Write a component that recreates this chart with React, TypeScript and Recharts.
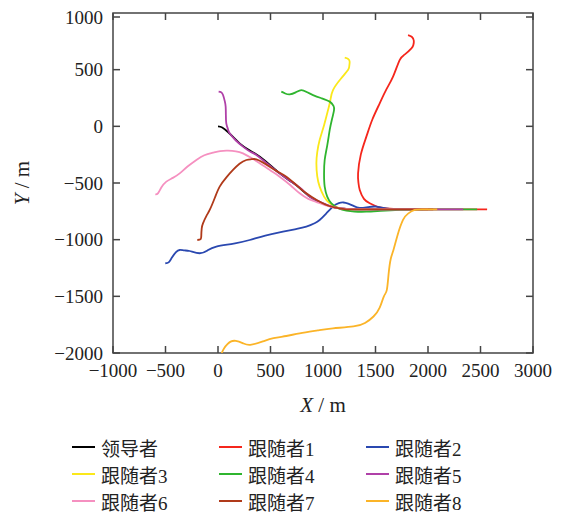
import { LineChart, Line, XAxis, YAxis, Legend, Label, ReferenceArea } from "recharts";

type Pt = [number, number];

const xTicks = [-1000, -500, 0, 500, 1000, 1500, 2000, 2500, 3000];
const yTicks = [-2000, -1500, -1000, -500, 0, 500, 1000];

const leader: Pt[] = [
  [0, 0], [40, -10], [95, -50], [150, -100], [206, -150], [280, -200], [349, -238],
  [450, -305], [587, -415], [700, -490], [778, -545], [860, -610], [937, -655],
  [1020, -690], [1095, -712], [1200, -727], [1300, -732], [1600, -732], [2000, -732],
];

const follower1: Pt[] = [
  [1810, 805], [1845, 790], [1865, 755], [1860, 715], [1842, 688], [1780, 635], [1730, 585],
  [1667, 438], [1600, 320], [1540, 203], [1470, 60], [1413, -91], [1360, -250], [1334, -415],
  [1338, -500], [1350, -562], [1390, -640], [1445, -679], [1520, -710], [1603, -723],
  [1750, -730], [2048, -732], [2563, -732],
];

const follower2: Pt[] = [
  [-502, -1208], [-470, -1200], [-440, -1160], [-400, -1110], [-365, -1091], [-320, -1095],
  [-270, -1100], [-175, -1120], [-100, -1095], [-16, -1061], [150, -1035], [302, -1003],
  [450, -965], [619, -929], [750, -905], [841, -885], [920, -855], [968, -826], [1030, -770],
  [1095, -708], [1150, -678], [1195, -672], [1240, -682], [1286, -700], [1349, -720],
  [1430, -712], [1508, -708], [1570, -720], [1635, -729], [1800, -732], [1950, -732],
];

const follower3: Pt[] = [
  [1207, 606], [1240, 595], [1254, 570], [1250, 530], [1238, 497], [1170, 420], [1095, 320],
  [1070, 230], [1048, 144], [1010, 10], [968, -121], [945, -230], [937, -326], [945, -440],
  [968, -532], [1010, -620], [1064, -679], [1159, -723], [1300, -733], [1600, -732], [2000, -732],
];

const follower4: Pt[] = [
  [603, 306], [640, 290], [683, 282], [740, 300], [794, 320], [850, 300], [905, 276],
  [980, 250], [1064, 218], [1100, 180], [1105, 144], [1085, 60], [1064, -32], [1040, -170],
  [1016, -297], [1010, -420], [1016, -532], [1040, -620], [1080, -679], [1150, -725],
  [1222, -744], [1300, -752], [1413, -753], [1550, -745], [1730, -736], [2000, -732], [2468, -732],
];

const follower5: Pt[] = [
  [6, 306], [30, 300], [48, 276], [65, 220], [73, 173], [75, 100], [79, 26], [95, -25],
  [111, -62], [170, -125], [238, -179], [300, -220], [365, -253], [470, -330], [587, -415],
  [700, -490], [778, -540], [860, -610], [937, -652], [1095, -710], [1200, -727], [1300, -732],
  [1600, -732], [2335, -732],
];

const follower6: Pt[] = [
  [-597, -600], [-572, -591], [-540, -540], [-492, -488], [-430, -455], [-365, -415],
  [-290, -355], [-206, -297], [-130, -255], [-48, -232], [20, -218], [95, -215], [170, -220],
  [238, -238], [320, -280], [397, -326], [500, -390], [587, -444], [690, -520], [778, -591],
  [860, -640], [937, -668], [1020, -695], [1095, -714], [1200, -727], [1400, -732], [2000, -732],
];

const follower7: Pt[] = [
  [-197, -1003], [-165, -995], [-159, -960], [-155, -900], [-143, -856], [-110, -790],
  [-79, -738], [-30, -630], [16, -532], [80, -450], [143, -385], [205, -330], [270, -297],
  [320, -290], [365, -291], [430, -320], [492, -356], [560, -395], [651, -444], [750, -520],
  [841, -591], [940, -650], [1032, -694], [1120, -718], [1222, -732], [1400, -733], [2050, -732],
];

const follower8: Pt[] = [
  [35, -2000], [60, -1955], [90, -1922], [120, -1900], [170, -1893], [240, -1915],
  [307, -1928], [420, -1900], [529, -1869], [650, -1850], [778, -1826], [950, -1800],
  [1095, -1782], [1290, -1766], [1400, -1735], [1481, -1678], [1540, -1600], [1580, -1500],
  [1608, -1443], [1625, -1300], [1645, -1170], [1671, -1091], [1710, -960], [1762, -826],
  [1810, -770], [1873, -738], [1950, -732], [2088, -732],
];

const seriesNames = ["领导者", "跟随者1", "跟随者2", "跟随者3", "跟随者4", "跟随者5", "跟随者6", "跟随者7", "跟随者8"];
const seriesColors = ["#000000", "#f5261c", "#2a48b0", "#fbe81a", "#2fb52f", "#b040a8", "#f590c0", "#b03a1a", "#fbb428"];
const seriesPoints = [leader, follower1, follower2, follower3, follower4, follower5, follower6, follower7, follower8];

const FONT = "'Liberation Serif', 'Noto Sans CJK SC', serif";
const AXIS = "#444";
const PLOT_W = 420;
const PLOT_H = 340;
const TICK = 7;
const fmt = (v: number) => String(v).replace("-", "\u2212");

// x tick: label below, inward marks at bottom and top of the frame
function XTick({ x, y, payload }: any) {
  return (
    <g>
      <line x1={x} y1={y} x2={x} y2={y - TICK} stroke={AXIS} strokeWidth={1.5} />
      <line x1={x} y1={y - PLOT_H} x2={x} y2={y - PLOT_H + TICK} stroke={AXIS} strokeWidth={1.5} />
      <text x={x} y={y + 17} dy="0.35em" textAnchor="middle" fontFamily={FONT} fontSize={19} fill="#222">
        {fmt(payload.value)}
      </text>
    </g>
  );
}

// y tick: label left, inward marks at left and right of the frame
function YTick({ x, y, payload }: any) {
  return (
    <g>
      <line x1={x} y1={y} x2={x + TICK} y2={y} stroke={AXIS} strokeWidth={1.5} />
      <line x1={x + PLOT_W} y1={y} x2={x + PLOT_W - TICK} y2={y} stroke={AXIS} strokeWidth={1.5} />
      <text x={x - 10} y={y} dy="0.35em" textAnchor="end" fontFamily={FONT} fontSize={19} fill="#222">
        {fmt(payload.value)}
      </text>
    </g>
  );
}

function LegendGrid(props: any) {
  const payload = [...(props.payload || [])]
    .filter((p: any) => seriesNames.includes(p.value))
    .sort((a: any, b: any) => seriesNames.indexOf(a.value) - seriesNames.indexOf(b.value));
  return (
    <div style={{ display: "grid", gridTemplateColumns: "147px 147px 147px", rowGap: 1 }}>
      {payload.map((p: any) => (
        <div key={p.value} style={{ display: "flex", alignItems: "center", height: 26, fontFamily: FONT, fontSize: 19, color: "#222" }}>
          <span style={{ display: "inline-block", width: 23, height: 0, borderTop: `2px solid ${p.color}`, marginRight: 6 }} />
          <span>{p.value}</span>
        </div>
      ))}
    </div>
  );
}

export default function App() {
  return (
    <div style={{ position: "relative", width: 548, height: 507 }}>
      <LineChart width={548} height={507} margin={{ top: 5, right: 23, left: 45, bottom: 122 }}>
        <XAxis
          xAxisId="b"
          type="number"
          dataKey="x"
          domain={[-1000, 3000]}
          ticks={xTicks}
          allowDataOverflow
          height={40}
          tickSize={0}
          tickMargin={0}
          tickLine={false}
          axisLine={false}
          tick={<XTick />}
        >
          <Label
            content={({ viewBox }: any) => (
              <text x={viewBox.x + viewBox.width / 2} y={404} textAnchor="middle" fontFamily={FONT} fontSize={21} fill="#222">
                <tspan fontStyle="italic">X</tspan> / m
              </text>
            )}
          />
        </XAxis>
        <YAxis
          yAxisId="l"
          type="number"
          dataKey="y"
          domain={[-2000, 1000]}
          ticks={yTicks}
          allowDataOverflow
          width={60}
          tickSize={0}
          tickMargin={0}
          tickLine={false}
          axisLine={false}
          tick={<YTick />}
        >
          <Label
            content={({ viewBox }: any) => {
              const cy = viewBox.y + viewBox.height / 2;
              return (
                <text x={14} y={cy} transform={`rotate(-90, 14, ${cy})`} textAnchor="middle" dominantBaseline="central" fontFamily={FONT} fontSize={21} fill="#222">
                  <tspan fontStyle="italic">Y</tspan> / m
                </text>
              );
            }}
          />
        </YAxis>
        <ReferenceArea
          xAxisId="b"
          yAxisId="l"
          x1={-1000}
          x2={3000}
          y1={-2000}
          y2={1000}
          fill="none"
          stroke={AXIS}
          strokeWidth={1.5}
          ifOverflow="visible"
        />
        <Legend
          layout="horizontal"
          verticalAlign="middle"
          align="center"
          content={<LegendGrid />}
          wrapperStyle={{ position: "absolute", top: 426, left: 64, width: 450 }}
        />
        {seriesPoints.map((pts, i) => (
          <Line
            key={seriesNames[i]}
            xAxisId="b"
            yAxisId="l"
            data={pts.map(([x, y]) => ({ x, y }))}
            dataKey="y"
            name={seriesNames[i]}
            type="natural"
            stroke={seriesColors[i]}
            strokeWidth={1.8}
            dot={false}
            isAnimationActive={false}
          />
        ))}
      </LineChart>
    </div>
  );
}
